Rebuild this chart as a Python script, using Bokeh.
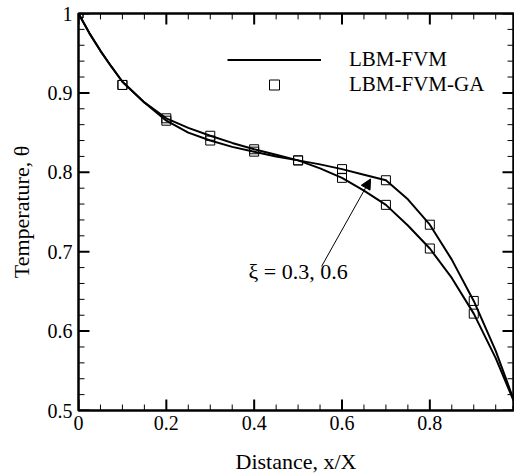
from bokeh.plotting import figure
from bokeh.models import (Range1d, LinearAxis, FixedTicker, Legend, LegendItem,
                          Arrow, NormalHead, Label, Grid)
from bokeh.embed import file_html
from bokeh.resources import INLINE
import numpy as np

# ---- data ----
x_pts = [0.0, 0.1, 0.2, 0.3, 0.4, 0.5, 0.6, 0.7, 0.8, 0.9, 1.0]
ga_xi_a = [1.0, 0.910, 0.868, 0.846, 0.829, 0.815, 0.793, 0.759, 0.704, 0.622, 0.5]
ga_xi_b = [1.0, 0.910, 0.865, 0.840, 0.826, 0.815, 0.804, 0.790, 0.734, 0.638, 0.5]

x_line = [0.0, 0.025, 0.05, 0.075, 0.1, 0.15, 0.2, 0.25, 0.3, 0.35, 0.4, 0.45,
          0.5, 0.55, 0.6, 0.65, 0.7, 0.75, 0.8, 0.85, 0.9, 0.95, 1.0]
fvm_xi_a = [1.0, 0.975, 0.953, 0.933, 0.914, 0.888, 0.868, 0.856, 0.846, 0.837,
            0.829, 0.822, 0.815, 0.805, 0.793, 0.777, 0.759, 0.733, 0.704, 0.667,
            0.622, 0.566, 0.5]
fvm_xi_b = [1.0, 0.975, 0.953, 0.933, 0.914, 0.888, 0.865, 0.850, 0.840, 0.832,
            0.826, 0.820, 0.815, 0.810, 0.804, 0.797, 0.790, 0.766, 0.734, 0.690,
            0.638, 0.575, 0.5]

x_ticks = [0.0, 0.2, 0.4, 0.6, 0.8]
x_tick_labels = ["0", "0.2", "0.4", "0.6", "0.8"]
y_ticks = [0.5, 0.6, 0.7, 0.8, 0.9, 1.0]
y_tick_labels = ["0.5", "0.6", "0.7", "0.8", "0.9", "1"]

x_title = "Distance, x/X"
y_title = "Temperature, \u03b8"
legend_labels = ["LBM-FVM", "LBM-FVM-GA"]
annotation = "\u03be = 0.3, 0.6"

FONT = "Liberation Serif"
X0, X1 = 0.0, 0.9905
Y0, Y1 = 0.5, 1.0
FRAME_W, FRAME_H = 435, 400   # frame size in px (for inward tick lengths)

p = figure(width=514, height=476, output_backend="svg", toolbar_location=None,
           x_range=Range1d(X0, X1), y_range=Range1d(Y0, Y1),
           x_axis_location=None, y_axis_location=None,
           min_border_left=78, min_border_right=1, min_border_top=13,
           min_border_bottom=63)
p.outline_line_color = "black"
p.outline_line_width = 2.5
p.background_fill_color = "white"
p.border_fill_color = "white"
for r in list(p.center):
    if isinstance(r, Grid):
        r.visible = False
        r.grid_line_color = None

xt = FixedTicker(ticks=x_ticks, minor_ticks=[])
yt = FixedTicker(ticks=y_ticks, minor_ticks=[])


def style(ax):
    ax.axis_line_color = None
    ax.major_tick_line_color = None
    ax.minor_tick_line_color = None
    ax.major_tick_in = 0
    ax.major_tick_out = 0
    ax.minor_tick_in = 0
    ax.minor_tick_out = 0
    ax.major_label_text_font = FONT
    ax.major_label_text_font_size = "20px"
    ax.major_label_text_color = "black"
    ax.axis_label_text_font = FONT
    ax.axis_label_text_font_size = "22px"
    ax.axis_label_text_font_style = "normal"
    ax.axis_label_text_color = "black"


bottom = LinearAxis(ticker=xt, axis_label=x_title,
                    major_label_overrides=dict(zip(x_ticks, x_tick_labels)))
style(bottom)
bottom.major_label_standoff = 5
bottom.axis_label_standoff = 16
left = LinearAxis(ticker=yt, axis_label=y_title,
                  major_label_overrides=dict(zip(y_ticks, y_tick_labels)))
style(left)
left.major_label_standoff = 6
left.axis_label_standoff = 11
p.add_layout(bottom, "below")
p.add_layout(left, "left")

# inward tick marks on all four sides, drawn as segments
dx_px = (X1 - X0) / FRAME_W
dy_px = (Y1 - Y0) / FRAME_H
x_minor = [float(v) for v in np.round(np.arange(0, 1.0, 0.05), 4)
           if min(abs(v - t) for t in x_ticks) > 1e-6]
y_minor = [float(v) for v in np.round(np.arange(0.5, 1.0, 0.02), 4)
           if min(abs(v - t) for t in y_ticks) > 1e-6]
for xs, ln, lw in ((x_ticks, 11, 2), (x_minor, 6, 1)):
    xs = list(xs)
    n = len(xs)
    p.segment(x0=xs * 2, x1=xs * 2,
              y0=[Y0] * n + [Y1] * n,
              y1=[Y0 + ln * dy_px] * n + [Y1 - ln * dy_px] * n,
              line_color="black", line_width=lw)
for ys, ln, lw in ((y_ticks, 11, 2), (y_minor, 6, 1)):
    ys = list(ys)
    n = len(ys)
    p.segment(y0=ys * 2, y1=ys * 2,
              x0=[X0] * n + [X1] * n,
              x1=[X0 + ln * dx_px] * n + [X1 - ln * dx_px] * n,
              line_color="black", line_width=lw)

l1 = p.line(x_line, fvm_xi_a, line_color="black", line_width=2)
l2 = p.line(x_line, fvm_xi_b, line_color="black", line_width=2)
s1 = p.scatter(x_pts, ga_xi_a, marker="square", size=9, fill_color=None,
               line_color="black", line_width=1)
s2 = p.scatter(x_pts, ga_xi_b, marker="square", size=9, fill_color=None,
               line_color="black", line_width=1)

legend = Legend(items=[LegendItem(label=legend_labels[0], renderers=[l1]),
                       LegendItem(label=legend_labels[1], renderers=[s1])],
                location=(149, 313), orientation="vertical",
                glyph_width=94, glyph_height=25, label_height=25, spacing=0,
                padding=0, margin=0, label_standoff=28,
                border_line_color=None, background_fill_alpha=0,
                label_text_font=FONT, label_text_font_size="21px",
                label_text_color="black")
p.add_layout(legend, "center")

p.add_layout(Arrow(end=NormalHead(size=10, fill_color="black", line_color="black",
                                  line_width=1),
                   x_start=0.5536, y_start=0.6816, x_end=0.665, y_end=0.7916,
                   line_color="black", line_width=1))
p.add_layout(Label(x=0.387, y=0.6755, text=annotation, text_font=FONT,
                   text_font_size="22px", text_baseline="middle",
                   text_color="black"))

open("out.html", "w").write(file_html(p, INLINE))
